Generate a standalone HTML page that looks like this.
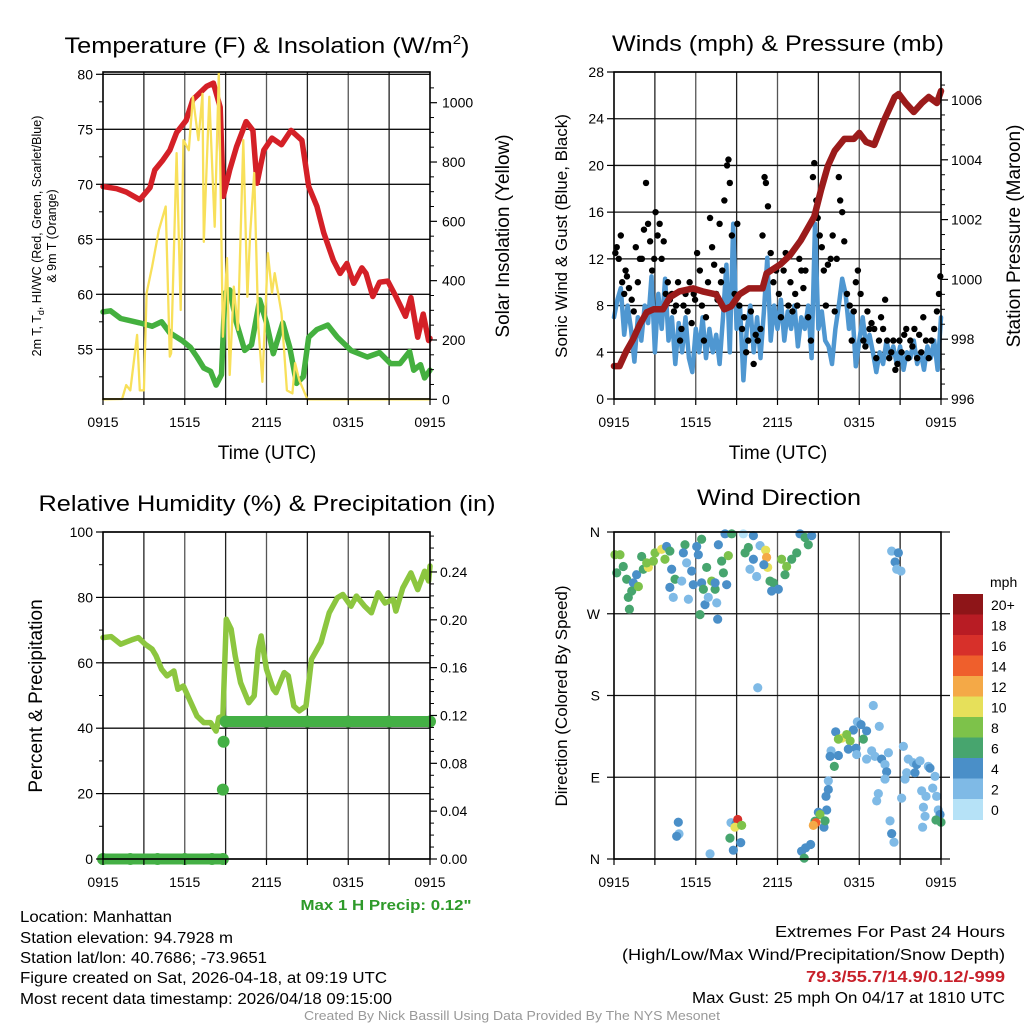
<!DOCTYPE html>
<html><head><meta charset="utf-8"><title>NYS Mesonet Manhattan Meteogram</title>
<style>
html,body{margin:0;padding:0;background:#fff;}
svg{display:block;font-family:"Liberation Sans",sans-serif;}
</style></head>
<body>
<svg id="chart" width="1024" height="1024" viewBox="0 0 1024 1024" xmlns="http://www.w3.org/2000/svg">
<rect x="0" y="0" width="1024" height="1024" fill="#fff"/>
<g id="layer-grid"></g>
<g id="layer-data"></g>
<g id="layer-axes"></g>

<text x="267" y="53" font-size="22" text-anchor="middle" textLength="405" lengthAdjust="spacingAndGlyphs">Temperature (F) &amp; Insolation (W/m<tspan font-size="13" dy="-9">2</tspan><tspan dy="9">)</tspan></text>
<text x="778" y="51" font-size="22" text-anchor="middle" textLength="332" lengthAdjust="spacingAndGlyphs">Winds (mph) &amp; Pressure (mb)</text>
<text x="267" y="511" font-size="22" text-anchor="middle" textLength="457" lengthAdjust="spacingAndGlyphs">Relative Humidity (%) &amp; Precipitation (in)</text>
<text x="779" y="505" font-size="22" text-anchor="middle" textLength="164" lengthAdjust="spacingAndGlyphs">Wind Direction</text>

<text x="267" y="459" font-size="19" text-anchor="middle">Time (UTC)</text>
<text x="778" y="459" font-size="19" text-anchor="middle">Time (UTC)</text>

<text transform="translate(41,236) rotate(-90)" font-size="12.5" text-anchor="middle">2m T, T<tspan font-size="9" dy="3">d</tspan><tspan dy="-3">, HI/WC (Red, Green, Scarlet/Blue)</tspan></text>
<text transform="translate(56,236) rotate(-90)" font-size="12.5" text-anchor="middle">&amp; 9m T (Orange)</text>
<text transform="translate(509,236) rotate(-90)" font-size="19" text-anchor="middle">Solar Insolation (Yellow)</text>
<text transform="translate(567,236) rotate(-90)" font-size="17" text-anchor="middle">Sonic Wind &amp; Gust (Blue, Black)</text>
<text transform="translate(1020,236) rotate(-90)" font-size="19" text-anchor="middle">Station Pressure (Maroon)</text>
<text transform="translate(42,696) rotate(-90)" font-size="19" text-anchor="middle">Percent &amp; Precipitation</text>
<text transform="translate(567,696) rotate(-90)" font-size="17" text-anchor="middle">Direction (Colored By Speed)</text>

<text x="386" y="910" font-size="15" font-weight="bold" fill="#2e9a2a" text-anchor="middle" textLength="171" lengthAdjust="spacingAndGlyphs">Max 1 H Precip: 0.12"</text>

<g font-size="15.5">
<text x="20" y="922" textLength="152" lengthAdjust="spacingAndGlyphs">Location: Manhattan</text>
<text x="20" y="943" textLength="213" lengthAdjust="spacingAndGlyphs">Station elevation: 94.7928 m</text>
<text x="20" y="963" textLength="247" lengthAdjust="spacingAndGlyphs">Station lat/lon: 40.7686; -73.9651</text>
<text x="20" y="983" textLength="367" lengthAdjust="spacingAndGlyphs">Figure created on Sat, 2026-04-18, at 09:19 UTC</text>
<text x="20" y="1004" textLength="372" lengthAdjust="spacingAndGlyphs">Most recent data timestamp: 2026/04/18 09:15:00</text>
</g>
<g font-size="15.5" text-anchor="end">
<text x="1005" y="937" textLength="230" lengthAdjust="spacingAndGlyphs">Extremes For Past 24 Hours</text>
<text x="1005" y="960" textLength="383" lengthAdjust="spacingAndGlyphs">(High/Low/Max Wind/Precipitation/Snow Depth)</text>
<text x="1005" y="982" font-weight="bold" fill="#c8202a" textLength="199" lengthAdjust="spacingAndGlyphs">79.3/55.7/14.9/0.12/-999</text>
<text x="1005" y="1003" textLength="313" lengthAdjust="spacingAndGlyphs">Max Gust: 25 mph On 04/17 at 1810 UTC</text>
</g>
<text x="512" y="1020" font-size="12.5" fill="#999" text-anchor="middle" textLength="416" lengthAdjust="spacingAndGlyphs">Created By Nick Bassill Using Data Provided By The NYS Mesonet</text>
</svg>

<script>
// ---------- DATA ----------
const xTickLabels = ["0915","1515","2115","0315","0915"];
const xTickHours = [0,6,12,18,24];

const tempT = [0,1.0,1.7,2.7,3.45,3.8,4.4,4.9,5.4,6.1,6.6,7.1,7.6,8.1,8.6,8.83,9.3,9.8,10.5,11,11.3,11.8,12.4,13.1,13.8,14.6,15.1,15.7,16.2,16.9,17.4,17.9,18.4,19,19.3,19.8,20.3,20.9,21.5,22.2,22.6,23.1,23.5,23.9,24];
const tempV = [69.8,69.6,69.3,68.6,69.7,71.3,72.2,73.1,74.7,75.8,77.7,78.3,78.9,79.2,77,68.9,71.3,73.4,75.7,74.9,70.1,73.1,74.2,73.6,74.9,74,69.8,68,65.6,63.1,61.9,62.8,61,62.4,61.9,59.8,61.1,61.2,59.8,58,59.7,56.1,58.2,55.8,56];
const dewT = [0,0.55,1.3,2.7,3.6,4.3,4.9,5.8,6.4,6.9,7.4,7.9,8.3,8.7,8.95,9.3,9.8,10.4,10.9,11.5,12,12.5,13.2,13.7,14.2,14.7,15.1,15.7,16.5,17.2,18.2,19.4,20.3,21.1,21.8,22.5,22.8,23.3,23.6,24];
const dewV = [58.4,58.5,57.8,57.4,57.1,57.5,56.5,55.8,55.2,54.3,53.3,53,51.75,52.7,60.1,60.4,57.4,54.9,55.4,59.5,57.4,54.6,57.4,55.2,51.9,52.5,56.1,56.8,57.2,56.1,54.9,54.3,54.7,53.7,53.7,54.8,53.1,53.6,52.4,53.1];
const solT = [0,1.4,1.7,2.0,2.5,2.7,3.0,3.2,3.6,4.1,4.6,4.9,5.0,5.4,5.7,5.9,6.3,6.6,7.0,7.3,7.4,7.8,8.2,8.5,8.8,9.1,9.3,9.6,9.9,10.3,10.6,10.8,11.1,11.4,11.7,12.1,12.4,12.6,13.1,13.5,13.9,14.1,14.4,15.0,24];
const solV = [0,1,48,30,217,30,30,358,447,571,650,144,155,830,301,874,840,1020,874,1030,531,1020,582,1099,211,476,82,380,234,874,346,560,763,245,59,493,358,425,291,30,20,122,65,0,0];

const presT = [0,0.4,0.9,1.4,1.9,2.4,2.9,3.6,4.1,4.8,5.8,6.5,7.5,8.1,8.6,9.2,9.9,10.9,11.2,12.2,12.9,13.7,14.7,15.2,15.7,16.2,16.9,17.6,18,18.5,19.1,19.8,20.6,20.9,21.4,22,22.6,23.1,23.7,24];
const presV = [997.1,997.1,997.6,998,998.5,998.9,999,999,999.4,999.6,999.7,999.6,999.5,999,999.1,999.5,999.7,999.7,1000.2,1000.5,1000.8,1001.3,1002.1,1003,1003.8,1004.3,1004.7,1004.7,1004.9,1004.6,1004.5,1005.3,1006.1,1006.2,1005.9,1005.6,1005.9,1006.1,1005.9,1006.3];
const windStep = 0.25;
const windV = [7,8.5,9.5,5.5,8,6,3.2,7,5,8,6.5,10.5,4,9,6,10.3,5,7,3,6.5,4,7,3.5,2.3,6,4,7,3.5,6,4,5.5,3,7,11.5,4,15,6,8,1.6,6,8,4,7,3.5,7.5,12.1,5,8,6,8.5,5,7.5,6,8,4.5,7,6,8,3.5,15,6,7.5,5,4.5,3,6,8,10.3,9,6,7.5,2.8,5,7,4.5,5.5,4,2.3,4,3,5,3.5,4.5,3,4.5,2.5,4,3.5,5,3,4,2.5,4.5,3.5,5,2.5,7];
const gustT = [0.1,0.2,0.35,0.5,0.6,0.75,0.85,0.95,1.1,1.3,1.45,1.6,1.75,1.9,2.05,2.2,2.35,2.5,2.65,2.8,2.95,3.05,3.2,3.35,3.5,3.65,3.8,3.95,4.1,4.25,4.4,4.55,4.7,4.85,4.95,5.1,5.25,5.4,5.55,5.7,5.85,5.95,6.1,6.3,6.45,6.6,6.75,6.9,7.05,7.2,7.35,7.5,7.6,7.75,7.85,7.95,8.1,8.3,8.4,8.5,8.65,8.85,9.05,9.2,9.4,9.55,9.7,9.85,10.05,10.25,10.4,10.55,10.75,10.9,11.05,11.15,11.3,11.5,11.7,11.9,12.1,12.25,12.45,12.6,12.8,12.95,13.1,13.3,13.45,13.6,13.75,13.9,14.05,14.25,14.45,14.6,14.7,14.85,14.95,15.1,15.25,15.4,15.55,15.7,15.9,16.05,16.2,16.35,16.5,16.6,16.75,16.9,17.1,17.3,17.45,17.6,17.75,17.9,18.1,18.3,18.45,18.6,18.75,18.9,19.1,19.25,19.45,19.6,19.75,19.9,20.05,20.2,20.35,20.5,20.65,20.8,20.95,21.1,21.3,21.45,21.6,21.75,21.9,22.05,22.25,22.4,22.55,22.7,22.9,23.1,23.3,23.5,23.7,23.85,23.95];
const gustV = [12.5,13,12,14,10,9,11,10.5, 9.5,8.5,7.5,13,10,12, 12,14.5,18.5,15,13.5,11,12, 16,14,15,12,13.5,9,10, 8.5,9,7.5,8,10,5,6, 8,9,7.5,10,6.5,9,8.5, 12.5,11,8,5,7,10, 15.5,13,11.5,9,8.5,15,10,11, 17,20,20.5,18.5,14,9, 15,8,6,7,4,5, 7.5,3,5.5,5,6,14, 19,18.5,16.5,12.5,10,11, 9,7,11,12.5,8,10, 7.5,9,8,12,11,9.5, 11,7,5,19,20.2,17,15.5, 14,13,11,8,11.5,12, 14,7.5,12,19,17,16,13.5, 9,8,5,7.5,10,11, 9,5,4.5,7.5,6,6.5, 6,3.5,5,7,6,8.5, 5,3.5,4,5,2.5,3,5, 4,5.5,6,3.5,5,4.5, 6,3.5,5.5,4,7,5, 3.5,5,6,7.5,9,10.5];

const rhT = [0,0.6,1.3,2.1,2.6,3.1,3.6,3.9,4.3,4.7,5.2,5.5,5.9,6.4,6.9,7.4,7.9,8.3,8.5,8.8,9.05,9.4,9.7,10.1,10.7,11.1,11.4,11.6,12,12.5,12.7,13.3,13.6,14,14.4,14.9,15.3,16,16.6,17.2,17.6,18.2,18.6,19.2,19.7,20.2,20.7,21.3,21.5,22,22.6,23.1,23.6,23.9,24];
const rhV = [67.7,68,65.7,67,67.7,65.7,64.2,62.1,58,56,57.5,51.9,52.9,48.3,43.7,41.7,41.7,39.1,43.2,43.7,73.3,70.3,62.1,53.9,47.8,49.9,64.1,68.2,58,51.9,50.9,57,56,46.8,45.3,46.8,61.1,66.2,75.3,79.9,80.9,77.3,80.4,77.3,75.3,81.4,78.3,79.4,75.8,82.9,87.5,82.4,88,85,89.6];
const precT = [0,2,4,6,8,8.8,8.8,8.85,9.0,12,15,18,21,24];
const precV = [0,0,0,0,0,0,0.058,0.098,0.115,0.115,0.115,0.115,0.115,0.115];

const dirT = [0.07,0.44,0.2,0.68,0.93,1.05,1.13,1.42,1.3,1.79,1.66,2.03,2.15,2.52,2.4,2.89,3.01,3.5,3.74,3.86,4.1,4.35,4.23,4.1,4.48,4.97,5.21,5.09,5.46,5.33,5.7,5.82,6.07,6.19,6.31,6.43,6.43,6.56,6.68,6.92,6.8,7.17,7.42,7.54,7.66,7.61,7.42,7.9,8.03,8.27,8.39,8.15,8.64,9.49,10.23,9.62,9.86,9.98,10.23,10.47,10.72,11.13,11.2,11.28,11,11.45,11.7,11.57,12.06,12.3,12.67,12.55,13.04,13.41,13.65,14.02,14.26,14.51,20.38,20.87,20.63,20.75,21.06,10.55,19.03,19.47,17.86,18.13,17.57,16.27,16.71,17.08,16.47,17.33,18.3,18.54,17.2,17.76,15.93,15.86,16.47,16.17,17.81,18.54,18.91,19.15,19.64,19.89,20.01,20.14,19.89,19.4,19.28,21.24,21.6,21.97,22.21,21.48,21.36,22.09,22.46,23.07,23.19,23.56,23.39,22.58,22.9,23.68,21.11,22.71,22.83,23.8,23.93,24,23.63,22.65,20.26,20.38,20.55,15.73,15.73,15.56,15.61,15,15.12,14.75,14.82,14.63,15.41,15.49,14.43,14.06,13.77,13.96,4.72,4.77,4.6,7.05,8.59,8.95,9.08,8.88,9.37,8.51,9.3,8.76];
const dirDeg = [335,335,315,322,308,288,275,304,295,300,313,333,319,321,326,328,337,341,330,344,339,288,319,299,308,306,346,337,286,326,317,302,344,335,269,352,304,297,280,288,321,306,297,282,346,264,304,328,315,302,334,358,358,358,356,337,343,319,330,311,345,340,332,321,324,306,304,295,297,330,322,313,330,337,358,354,346,356,339,337,327,319,317,188.5,169,146,151,148,142,140,133,137,132,130,132,141,121,122,119,113,114,102,115,110,119,113,110,104,96,117,88,72,64,124,110,106,104,95,88,95,108,102,100,91,78,75,69,69,67,57,47,54,49,40.5,43,35,42,28,18.5,86,76.5,69,54,51.5,49,41.6,40,37,35,42,16,12.3,8.6,1,40.5,27.7,25,5.7,40,38.7,43.5,35,37,23,18,9.7];
const dirSpd = [9,9,7,7,7,7,7,5,7,9,5,7,7,11,9,9,9,11,9,5,7,3,5,5,7,3,7,5,3,3,5,5,5,5,7,7,5,7,5,3,7,9,7,3,5,5,5,7,7,5,9,5,7,1,5,7,7,3,5,3,3,11,13,11,5,7,7,5,5,9,9,7,7,7,5,7,7,5,3,5,5,3,3,3,3,3,3,5,5,5,11,9,9,9,7,5,5,5,3,5,5,7,3,3,3,3,5,3,5,3,3,3,3,3,3,3,5,3,3,5,3,3,5,3,3,3,3,3,3,3,3,3,5,7,7,3,3,5,3,3,5,5,5,5,9,7,15,13,5,7,5,5,5,7,5,3,5,3,3,5,17,11,9,7,5,5,9];
const cbLabels = ["20+","18","16","14","12","10","8","6","4","2","0"];
const cbColors = ["#8e1518","#b81c24","#d7302a","#ef5f2c","#f4a947","#e6e05a","#7dc24a","#47a56e","#4a8fc8","#7fbae6","#b6e2f7"];

// ---------- SETUP ----------
const NS = 'http://www.w3.org/2000/svg';
const gGrid = document.getElementById('layer-grid');
const gData = document.getElementById('layer-data');
const gAxes = document.getElementById('layer-axes');
function mk(tag, attrs, parent) {
  const e = document.createElementNS(NS, tag);
  for (const k in attrs) e.setAttribute(k, attrs[k]);
  parent.appendChild(e);
  return e;
}
const P1 = {x0:103, x1:430, y0:72, y1:399};
const P2 = {x0:614, x1:941, y0:72, y1:399};
const P3 = {x0:103, x1:430, y0:532, y1:859};
const P4 = {x0:614, x1:941, y0:532, y1:859};
function xs(P, h) { return P.x0 + h / 24 * (P.x1 - P.x0); }
const yTemp = t => 349.3 - (t - 55) * 11;
const ySol = v => 399.3 - v * 0.2966;
const yWind = s => 399 - s * 327 / 28;
const yPres = p => 399 - (p - 996) * 29.9;
const yRH = r => 859 - r * 3.27;
const yPrec = v => 859 - v * 1196;
const yDir = d => 859 - d / 360 * 327;

function line(x1, y1, x2, y2, stroke, w, parent, name) {
  const l = mk('line', {x1:x1, y1:y1, x2:x2, y2:y2, stroke:stroke, 'stroke-width':w}, parent);
  
  
  return l;
}
function label(x, y, txt, anchor, size, name) {
  const t = mk('text', {x:x, y:y, 'text-anchor':anchor, 'font-size':size}, gAxes);
  t.textContent = txt;
  
  
  return t;
}
function polyline(P, T, V, yf, color, w, name) {
  const pts = T.map((t, i) => xs(P, t).toFixed(1) + ',' + yf(V[i]).toFixed(1)).join(' ');
  const pl = mk('polyline', {points:pts, fill:'none', stroke:color, 'stroke-width':w, 'stroke-linejoin':'round', 'stroke-linecap':'round'}, gData);
  
  
  return pl;
}

// ---------- FRAMES / GRIDS / X AXES ----------
[P1, P2, P3, P4].forEach((P, pi) => {
  for (let h = 3; h < 24; h += 3) {
    line(xs(P, h), P.y0, xs(P, h), P.y1, (h % 6 === 0) ? '#555' : '#222', 1.3, gGrid, 'vertical-grid-line');
  }
  const fr = mk('rect', {x:P.x0, y:P.y0, width:P.x1 - P.x0, height:P.y1 - P.y0, fill:'none', stroke:'#000', 'stroke-width':1.6}, gAxes);
  
  
  for (let h = 0; h <= 24; h += 3) {
    line(xs(P, h), P.y1, xs(P, h), P.y1 + 6, '#000', 1.2, gAxes, 'x-tick');
  }
  xTickHours.forEach((h, i) => {
    label(xs(P, h), P.y1 + 28, xTickLabels[i], 'middle', 14, 'x-tick-label');
  });
});

// ---------- PANEL 1 ----------
[55, 60, 65, 70, 75, 80].forEach(t => {
  line(P1.x0, yTemp(t), P1.x1, yTemp(t), '#111', 1.3, gGrid, 'temperature-grid-line');
  line(P1.x0 - 7, yTemp(t), P1.x0, yTemp(t), '#000', 1.2, gAxes, 'temperature-major-tick');
  label(P1.x0 - 10, yTemp(t) + 5, String(t), 'end', 14, 'temperature-tick-label');
});
for (let t = 52.5; t < 80; t += 5) line(P1.x0 - 4, yTemp(t), P1.x0, yTemp(t), '#000', 1, gAxes, 'temperature-minor-tick');
[0, 200, 400, 600, 800, 1000].forEach(v => {
  line(P1.x1, ySol(v), P1.x1 + 7, ySol(v), '#000', 1.2, gAxes, 'insolation-major-tick');
  label(P1.x1 + 12, ySol(v) + 5, String(v), 'start', 14, 'insolation-tick-label');
});
for (let v = 50; v < 1100; v += 50) if (v % 200) line(P1.x1, ySol(v), P1.x1 + 4, ySol(v), '#000', 1, gAxes, 'insolation-minor-tick');
polyline(P1, tempT, tempV, yTemp, '#d42027', 5.5, 'temperature-line');
polyline(P1, dewT, dewV, yTemp, '#44b03f', 5.5, 'dewpoint-line');
polyline(P1, solT, solV, ySol, '#f8e05a', 2.3, 'insolation-line');

// ---------- PANEL 2 ----------
for (let s = 0; s <= 28; s += 4) {
  line(P2.x0, yWind(s), P2.x1, yWind(s), '#111', 1.3, gGrid, 'wind-grid-line');
  line(P2.x0 - 7, yWind(s), P2.x0, yWind(s), '#000', 1.2, gAxes, 'wind-major-tick');
  label(P2.x0 - 10, yWind(s) + 5, String(s), 'end', 14, 'wind-tick-label');
}
for (let p = 996; p <= 1006; p += 2) {
  line(P2.x1, yPres(p), P2.x1 + 7, yPres(p), '#000', 1.2, gAxes, 'pressure-major-tick');
  label(P2.x1 + 10, yPres(p) + 5, String(p), 'start', 14, 'pressure-tick-label');
}
for (let p = 996.5; p < 1007; p += 0.5) if (p % 2) line(P2.x1, yPres(p), P2.x1 + 4, yPres(p), '#000', 1, gAxes, 'pressure-minor-tick');
const windT = windV.map((v, i) => i * windStep);
polyline(P2, windT, windV, yWind, '#4f97d1', 4.5, 'sonic-wind-line');
gustT.forEach((t, i) => {
  const c = mk('circle', {cx:xs(P2, t), cy:yWind(gustV[i]), r:3.2, fill:'#000'}, gData);
  
  
});
polyline(P2, presT, presV, yPres, '#9b1b1b', 6.5, 'pressure-line');

// ---------- PANEL 3 ----------
for (let r = 0; r <= 100; r += 20) {
  line(P3.x0, yRH(r), P3.x1, yRH(r), '#111', 1.3, gGrid, 'humidity-grid-line');
  line(P3.x0 - 7, yRH(r), P3.x0, yRH(r), '#000', 1.2, gAxes, 'humidity-major-tick');
  label(P3.x0 - 10, yRH(r) + 5, String(r), 'end', 14, 'humidity-tick-label');
}
for (let r = 10; r < 100; r += 20) line(P3.x0 - 4, yRH(r), P3.x0, yRH(r), '#000', 1, gAxes, 'humidity-minor-tick');
for (let k = 0; k <= 6; k++) {
  const v = k * 0.04;
  line(P3.x1, yPrec(v), P3.x1 + 7, yPrec(v), '#000', 1.2, gAxes, 'precip-major-tick');
  label(P3.x1 + 10, yPrec(v) + 5, v.toFixed(2), 'start', 14, 'precip-tick-label');
}
for (let k = 1; k < 28; k++) if (k % 4) line(P3.x1, yPrec(k * 0.01), P3.x1 + 4, yPrec(k * 0.01), '#000', 1, gAxes, 'precip-minor-tick');
polyline(P3, rhT, rhV, yRH, '#8cc63f', 5.5, 'humidity-line');
for (let i = 0; i < precT.length; i++) {
  if (i > 0 && precV[i] === precV[i - 1]) {
    line(xs(P3, precT[i - 1]), yPrec(precV[i - 1]), xs(P3, precT[i]), yPrec(precV[i]), '#44b045', 11, gData, 'precip-segment').setAttribute('stroke-linecap', 'round');
  }
  const c = mk('circle', {cx:xs(P3, precT[i]), cy:yPrec(precV[i]), r:6, fill:'#44b045'}, gData);
  
  
}

// ---------- PANEL 4 ----------
const dirLabels = ["N","E","S","W","N"];
[0, 90, 180, 270, 360].forEach((d, i) => {
  line(P4.x0 - 7, yDir(d), P4.x1 + 9, yDir(d), '#111', 1.3, gGrid, 'direction-grid-line');
  label(P4.x0 - 14, yDir(d) + 5, dirLabels[i], 'end', 14, 'direction-tick-label');
});
function spdColor(s) {
  const bin = Math.min(10, Math.floor(s / 2));
  return cbColors[10 - bin];
}
dirT.forEach((t, i) => {
  const c = mk('circle', {cx:xs(P4, Math.min(24, t)), cy:yDir(dirDeg[i]), r:4.6, fill:spdColor(dirSpd[i])}, gData);
  
  
});
// colorbar
const cbX = 953, cbY = 594, cbH = 20.5, cbW = 30;
cbColors.forEach((col, i) => {
  const r = mk('rect', {x:cbX, y:cbY + i * cbH, width:cbW, height:cbH + 0.5, fill:col}, gAxes);
  
  
  label(cbX + 38, cbY + i * cbH + 16, cbLabels[i], 'start', 14, 'colorbar-label');
});
label(990, 587, 'mph', 'start', 14, 'colorbar-title');
</script>
</body></html>
